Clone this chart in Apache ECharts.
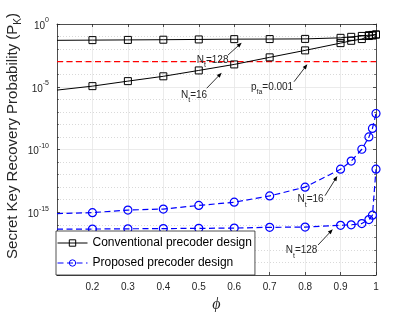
<!DOCTYPE html>
<html><head><meta charset="utf-8">
<script src="https://cdn.jsdelivr.net/npm/echarts@6/dist/echarts.min.js"></script>
<style>html,body{margin:0;padding:0;background:#fff}#c{width:415px;height:312px}</style>
</head><body><div id="c"></div>
<script>
// ---- data ----
const phi = [0.1, 0.2, 0.3, 0.4, 0.5, 0.6, 0.7, 0.8, 0.9, 0.93, 0.96, 0.98, 0.99, 1.0];
const convNt128 = [0.050, 0.052, 0.054, 0.056, 0.059, 0.062, 0.063, 0.065, 0.079, 0.095, 0.112, 0.129, 0.135, 0.145];
const convNt16  = [5.4e-6, 1.12e-5, 2.8e-5, 6.8e-5, 2.0e-4, 6.0e-4, 2.2e-3, 7.9e-3, 0.030, 0.046, 0.063, 0.11, 0.12, 0.145];
const propNt16  = [7.8e-16, 9.3e-16, 1.5e-15, 1.8e-15, 3.5e-15, 6.3e-15, 2.0e-14, 1.0e-13, 2.7e-12, 1.2e-11, 1.05e-10, 1.0e-9, 4.8e-9, 7.4e-8];
const propNt128 = [4.6e-17, 4.6e-17, 4.8e-17, 5.0e-17, 5.2e-17, 5.5e-17, 6.3e-17, 6.6e-17, 9.1e-17, 1.0e-16, 1.26e-16, 2.6e-16, 5.8e-16, 2.7e-12];
const pfa = 0.001;
const xTickValues = [0.2, 0.3, 0.4, 0.5, 0.6, 0.7, 0.8, 0.9, 1];
const yTickExponents = [0, -5, -10, -15];
const seriesNames = ['Conventional precoder design', 'Proposed precoder design'];
// annotation anchors in data units [phi, log10(P)]
const annotations = [
  {label: '{n|N}{s|t}{n|=128}', text: [0.539, -3.03], tail: [0.5825, -2.47], tip: [0.621, -1.49]},
  {label: '{n|N}{s|t}{n|=16}', text: [0.4866, -5.82], tail: [0.5224, -5.12], tip: [0.5647, -3.88]},
  {label: '{n|p}{s|fa}{n|=0.001}', text: [0.7067, -5.18], tail: [0.7687, -4.60], tip: [0.8063, -3.21]},
  {label: '{n|N}{s|t}{n|=16}', text: [0.8153, -14.16], tail: [0.8562, -13.68], tip: [0.8909, -12.11]},
  {label: '{n|N}{s|t}{n|=128}', text: [0.79, -18.19], tail: [0.8365, -17.61], tip: [0.878, -16.36]}
];

const FONT = '"Liberation Sans", Arial, Helvetica, sans-serif';
const AX = '#262626';

function build(vals) {
  return vals.map((v, i) => {
    const item = {value: [phi[i], Math.log10(v)]};
    if (i === 0) item.symbol = 'none';
    return item;
  });
}

const chart = echarts.init(document.getElementById('c'), null, {renderer: 'canvas'});

const axisLine = {show: true, onZero: false, lineStyle: {color: AX, width: 0.8}};
const tick = {show: true, inside: true, length: 3, lineStyle: {color: AX, width: 0.8}};

const convStyle = {
  type: 'line', name: seriesNames[0], symbol: 'rect', symbolSize: 7, showSymbol: true,
  lineStyle: {color: '#000', width: 1},
  itemStyle: {color: 'rgba(255,255,255,0)', borderColor: '#000', borderWidth: 1},
  emphasis: {disabled: true}, z: 3
};
const propStyle = {
  type: 'line', name: seriesNames[1], symbol: 'circle', symbolSize: 8, showSymbol: true,
  lineStyle: {color: '#0000ff', width: 1.2, type: [6, 3.5]},
  itemStyle: {color: 'rgba(255,255,255,0)', borderColor: '#0000ff', borderWidth: 1.2},
  emphasis: {disabled: true}, z: 3
};

chart.setOption({
  animation: false,
  backgroundColor: '#fff',
  textStyle: {fontFamily: FONT},
  grid: {left: 57, right: 39, top: 24, bottom: 37, show: false, containLabel: false, outerBoundsMode: 'none'},
  legend: {
    data: seriesNames, orient: 'vertical', left: 56, top: 231,
    itemWidth: 30, itemHeight: 8, itemGap: 8, padding: [6, 3, 6, 1],
    borderColor: AX, borderWidth: 0.8, backgroundColor: '#fff', borderRadius: 0,
    selectedMode: false,
    lineStyle: {width: 1},
    itemStyle: {borderWidth: 1},
    textStyle: {fontSize: 12, color: '#000', fontFamily: FONT}
  },
  xAxis: [{
    type: 'value', min: 0.1, max: 1, interval: 0.1, position: 'bottom',
    axisLine: axisLine, axisTick: tick,
    axisLabel: {showMinLabel: false, color: AX, fontSize: 10, fontFamily: FONT, margin: 7,
      formatter: v => {
        const r = Math.round(v * 10) / 10;
        return xTickValues.some(t => Math.abs(t - r) < 1e-6) ? String(r) : '';
      }},
    splitLine: {show: true, lineStyle: {color: '#e6e6e6', width: 0.8}}
  }, {
    type: 'value', min: 0.1, max: 1, interval: 0.1, position: 'top',
    axisLine: axisLine, axisTick: tick, axisLabel: {show: false}, splitLine: {show: false}
  }],
  yAxis: [{
    type: 'value', min: -20, max: 0, interval: 5, position: 'left',
    axisLine: axisLine, axisTick: tick,
    minorTick: {show: true, splitNumber: 5, length: 2, lineStyle: {color: AX, width: 0.6}},
    axisLabel: {
      showMinLabel: false, margin: 8,
      formatter: v => yTickExponents.indexOf(v) >= 0 ? '{b|10}{s|' + v + '}' : '',
      rich: {
        b: {fontSize: 10, fontFamily: FONT, color: AX, lineHeight: 14, verticalAlign: 'bottom'},
        s: {fontSize: 7, fontFamily: FONT, color: AX, lineHeight: 10, verticalAlign: 'top'}
      }
    },
    splitLine: {show: true, lineStyle: {color: '#e6e6e6', width: 0.8}},
    minorSplitLine: {show: true, lineStyle: {color: '#cfcfcf', width: 0.8, type: [1, 2]}}
  }, {
    type: 'value', min: -20, max: 0, interval: 5, position: 'right',
    axisLine: axisLine, axisTick: tick,
    minorTick: {show: true, splitNumber: 5, length: 2, lineStyle: {color: AX, width: 0.6}},
    axisLabel: {show: false}, splitLine: {show: false}
  }],
  series: [
    Object.assign({}, convStyle, {data: build(convNt128)}),
    Object.assign({}, convStyle, {data: build(convNt16)}),
    {
      type: 'line', name: 'pfa', symbol: 'none', silent: true,
      data: [[phi[0], Math.log10(pfa)], [phi[phi.length - 1], Math.log10(pfa)]],
      lineStyle: {color: '#ff0000', width: 1.3, type: [6, 3.5]}, z: 2
    },
    Object.assign({}, propStyle, {data: build(propNt16)}),
    Object.assign({}, propStyle, {data: build(propNt128)})
  ]
});

// annotations: text + arrows positioned in data coordinates
const g = [];
const P = p => chart.convertToPixel({xAxisIndex: 0, yAxisIndex: 0}, p);
annotations.forEach(a => {
  const tp = P(a.text), t0 = P(a.tail), t1 = P(a.tip);
  g.push({
    type: 'text', x: tp[0], y: tp[1], z: 50,
    style: {
      text: a.label, align: 'center', verticalAlign: 'middle',
      rich: {
        n: {fontSize: 10, fontFamily: FONT, fill: AX, lineHeight: 14, verticalAlign: 'top'},
        s: {fontSize: 7, fontFamily: FONT, fill: AX, lineHeight: 8, verticalAlign: 'bottom'}
      }
    }
  });
  const dx = t1[0] - t0[0], dy = t1[1] - t0[1];
  const len = Math.sqrt(dx * dx + dy * dy);
  const ux = dx / len, uy = dy / len, nx = -uy, ny = ux;
  const L = 5, W = 2;
  g.push({type: 'line', z: 50, shape: {x1: t0[0], y1: t0[1], x2: t1[0] - ux * L * 0.7, y2: t1[1] - uy * L * 0.7},
    style: {stroke: '#000', lineWidth: 0.8}});
  g.push({type: 'polygon', z: 50, shape: {points: [
    [t1[0], t1[1]],
    [t1[0] - ux * L + nx * W, t1[1] - uy * L + ny * W],
    [t1[0] - ux * L - nx * W, t1[1] - uy * L - ny * W]
  ]}, style: {fill: '#000'}});
});
// axis titles
const xMid = P([0.55, -20]);
g.push({
  type: 'text', x: xMid[0], y: 305, z: 50,
  style: {text: '\u03D5', align: 'center', verticalAlign: 'middle',
    font: 'italic 16px "Liberation Serif", "DejaVu Serif", serif', fill: AX}
});
g.push({
  type: 'text', x: 13, y: 136, rotation: Math.PI / 2, z: 50,
  style: {
    text: 'Secret Key Recovery Probability (P{k|K})', align: 'center', verticalAlign: 'middle',
    font: '15px ' + FONT, fill: AX, lineHeight: 20,
    rich: {k: {fontSize: 10, fontFamily: FONT, fill: AX, lineHeight: 12, verticalAlign: 'bottom'}}
  }
});
chart.setOption({graphic: g});
</script>
</body></html>
